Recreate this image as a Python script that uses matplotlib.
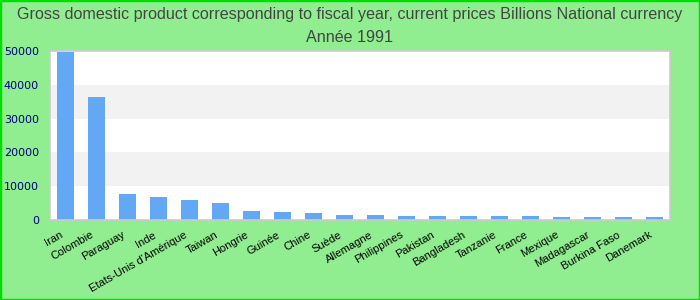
import matplotlib.pyplot as plt
from matplotlib.patches import Rectangle
from matplotlib.transforms import ScaledTranslation

# data
countries = ['Iran', 'Colombie', 'Paraguay', 'Inde', "Etats-Unis d'Amérique", 'Taiwan',
             'Hongrie', 'Guinée', 'Chine', 'Suède', 'Allemagne', 'Philippines', 'Pakistan',
             'Bangladesh', 'Tanzanie', 'France', 'Mexique', 'Madagascar', 'Burkina Faso',
             'Danemark']
gdp = [49800, 36400, 7700, 6800, 5900, 5000,
       2650, 2350, 2100, 1500, 1450, 1250, 1200,
       1150, 1150, 1100, 950, 900, 850,
       850]
yticks = [0, 10000, 20000, 30000, 40000, 50000]
title = ("Gross domestic product corresponding to fiscal year, current prices Billions National currency\n"
         "Année 1991")

fig = plt.figure(figsize=(7, 3), dpi=100, facecolor='#90ee90')
ax = fig.add_axes([0.0714, 0.2667, 0.8857, 0.5633])
ax.set_facecolor('white')

# alternating grey bands
for lo in yticks[1::2]:
    ax.axhspan(lo, lo + 10000, color='#f2f2f2', zorder=0, lw=0)

x = list(range(len(countries)))
ax.bar(x, gdp, width=0.55, color='#62a8f5', zorder=2)

ax.set_xlim(-0.5, len(countries) - 0.5)
ax.set_ylim(0, 50000)
ax.set_yticks(yticks)
ax.set_yticklabels([str(v) for v in yticks], color='#000080', fontsize=8)
ax.set_xticks(x)
ax.set_xticklabels(countries, rotation=30, ha='right', rotation_mode='anchor',
                   fontsize=8, family='Liberation Sans')
ax.tick_params(length=0)
ax.tick_params(axis='y', pad=8)
ax.tick_params(axis='x', pad=7)
# labels sit a little left of their bars in the original
shift = ScaledTranslation(-6 / 100, 0, fig.dpi_scale_trans)
for lab in ax.get_xticklabels():
    lab.set_transform(lab.get_transform() + shift)
for s in ax.spines.values():
    s.set_color('#cccccc')
    s.set_linewidth(1.2)

fig.suptitle(title, y=0.975, fontsize=11.6, color='#444444', family='Liberation Sans',
             linespacing=1.6, va='top')

# green frame round the figure
fig.patches.append(Rectangle((0, 0), 1, 1, transform=fig.transFigure, fill=False,
                             edgecolor='#00e000', lw=2.5))

fig.savefig('out.png', dpi=100, facecolor=fig.get_facecolor())
